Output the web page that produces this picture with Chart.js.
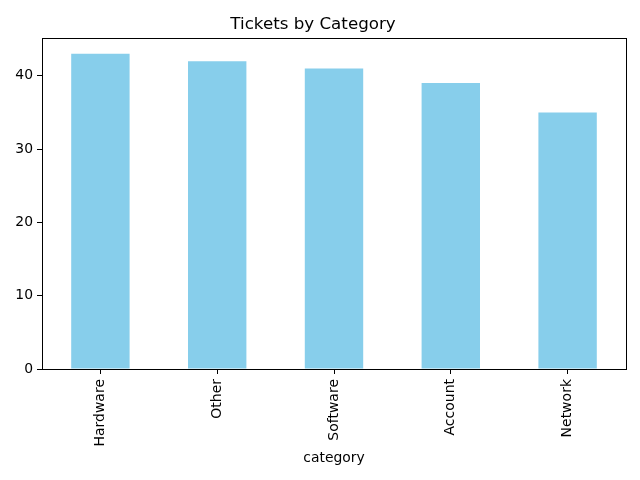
<!DOCTYPE html>
<html>
<head>
<meta charset="utf-8">
<script src="https://cdn.jsdelivr.net/npm/chart.js@4"></script>
<style>
  html, body { margin: 0; padding: 0; background: #fff; }
  #ticketsChart { display: block; }
</style>
</head>
<body>
<canvas id="ticketsChart" width="640" height="480"></canvas>
<script>
    const categorias = ['Hardware', 'Other', 'Software', 'Account', 'Network'];
    const tickets = [43, 42, 41, 39, 35];
    const yTicks = [0, 10, 20, 30, 40];

    const fontFamily = "'DejaVu Sans', sans-serif";
    const yMax = Math.max(...tickets) * 1.05; // margen superior como matplotlib

    // Marco completo alrededor del área del gráfico
    const marco = {
        id: 'marco',
        afterDraw(chart) {
            const a = chart.chartArea;
            const c = chart.ctx;
            c.save();
            c.strokeStyle = '#000';
            c.lineWidth = 1;
            c.strokeRect(Math.round(a.left) + 0.5, Math.round(a.top) + 0.5,
                Math.round(a.right - a.left), Math.round(a.bottom - a.top));
            c.restore();
        }
    };

    const ctx = document.getElementById('ticketsChart').getContext('2d');
    const ticketsChart = new Chart(ctx, {
        type: 'bar',
        data: {
            labels: categorias,
            datasets: [{
                label: 'count',
                data: tickets,
                backgroundColor: '#87CEEB',
                borderColor: '#87CEEB',
                borderWidth: 0,
                barPercentage: 0.5,
                categoryPercentage: 1.0
            }]
        },
        options: {
            responsive: false,
            animation: false,
            devicePixelRatio: 1,
            layout: {
                padding: { left: 0, right: 14, top: 0, bottom: 0 }
            },
            plugins: {
                legend: { display: false },
                tooltip: { enabled: false },
                title: {
                    display: true,
                    text: 'Tickets by Category',
                    color: '#000',
                    font: { family: fontFamily, size: 16.7, weight: 'normal' },
                    padding: { top: 15, bottom: 3 }
                }
            },
            scales: {
                x: {
                    afterFit: (scale) => { scale.height = 111; },
                    grid: {
                        offset: false,
                        drawOnChartArea: false,
                        drawTicks: true,
                        tickLength: 5,
                        tickColor: '#000'
                    },
                    border: { display: false },
                    ticks: {
                        color: '#000',
                        font: { family: fontFamily, size: 14 },
                        minRotation: 90,
                        maxRotation: 90,
                        padding: 5
                    },
                    title: {
                        display: true,
                        text: 'category',
                        color: '#000',
                        font: { family: fontFamily, size: 13.9 },
                        padding: { top: 0, bottom: 13 }
                    }
                },
                y: {
                    min: 0,
                    max: yMax,
                    afterFit: (scale) => { scale.width = 42; },
                    afterBuildTicks: (scale) => {
                        scale.ticks = yTicks.map(v => ({ value: v }));
                    },
                    grid: {
                        drawOnChartArea: false,
                        drawTicks: true,
                        tickLength: 5,
                        tickColor: '#000'
                    },
                    border: { display: false },
                    ticks: {
                        color: '#000',
                        font: { family: fontFamily, size: 13.9 },
                        padding: 4
                    }
                }
            }
        },
        plugins: [marco]
    });
</script>
</body>
</html>
